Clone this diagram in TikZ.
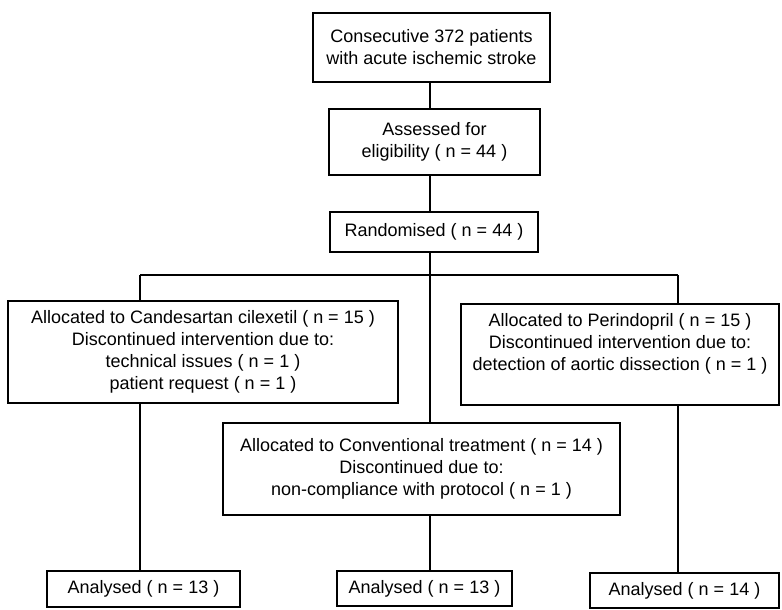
\documentclass[tikz,border=0pt]{standalone}
\usepackage{fontspec}
\setmainfont{Liberation Sans}

\begin{document}
\begin{tikzpicture}
[x=0.75pt, y=-0.75pt, every node/.style={inner sep=0pt},
 flowbox/.style={rectangle, draw=black, line width=1.2pt, align=center, font=\fontsize{13.5}{16.5}\selectfont},
 flowline/.style={line width=1.2pt, color=black}]
\useasboundingbox (0,0) rectangle (782,610);
\node (patients) [flowbox, minimum width=177.75pt, minimum height=51.75pt] at (431.5, 47.5) {Consecutive 372 patients\\with acute ischemic stroke};
\node (assessed) [flowbox, minimum width=158.25pt, minimum height=49.5pt] at (434.5, 142) {Assessed for\\eligibility ( n = 44 )};
\node (randomised) [flowbox, minimum width=156pt, minimum height=30pt] at (434, 232) {Randomised ( n = 44 )};
\node (candesartan) [flowbox, minimum width=292.5pt, minimum height=76.5pt] at (203, 352) {Allocated to Candesartan cilexetil ( n = 15 )\\Discontinued intervention due to:\\technical issues ( n = 1 )\\patient request ( n = 1 )};
\node (perindopril) [flowbox, minimum width=238.5pt, inner ysep=7.5pt, text depth=18pt, anchor=north] at (620, 303) {Allocated to Perindopril ( n = 15 )\\Discontinued intervention due to:\\detection of aortic dissection ( n = 1 )};
\node (conventional) [flowbox, minimum width=297.75pt, minimum height=69pt] at (421.5, 469) {Allocated to Conventional treatment ( n = 14 )\\Discontinued due to:\\non-compliance with protocol ( n = 1 )};
\node (analysedC) [flowbox, minimum width=144.75pt, minimum height=27pt] at (143.5, 589) {Analysed ( n = 13 )};
\node (analysedT) [flowbox, minimum width=131.25pt, minimum height=26.25pt] at (424.5, 588.5) {Analysed ( n = 13 )};
\node (analysedP) [flowbox, minimum width=141.75pt, minimum height=26.25pt] at (684.5, 590.5) {Analysed ( n = 14 )};
\coordinate (split) at (430, 275);
\coordinate (splitL) at (140, 275);
\coordinate (splitR) at (678, 275);
\draw [flowline] (patients.south -| split) -- (assessed.north -| split);
\draw [flowline] (assessed.south -| split) -- (randomised.north -| split);
\draw [flowline] (randomised.south -| split) -- (conventional.north -| split);
\draw [flowline] (splitL) -- (splitR);
\draw [flowline] (splitL) -- (splitL |- candesartan.north);
\draw [flowline] (splitR) -- (splitR |- perindopril.north);
\draw [flowline] (candesartan.south -| splitL) -- (analysedC.north -| splitL);
\draw [flowline] (conventional.south -| split) -- (analysedT.north -| split);
\draw [flowline] (perindopril.south -| splitR) -- (analysedP.north -| splitR);
\end{tikzpicture}
\end{document}
